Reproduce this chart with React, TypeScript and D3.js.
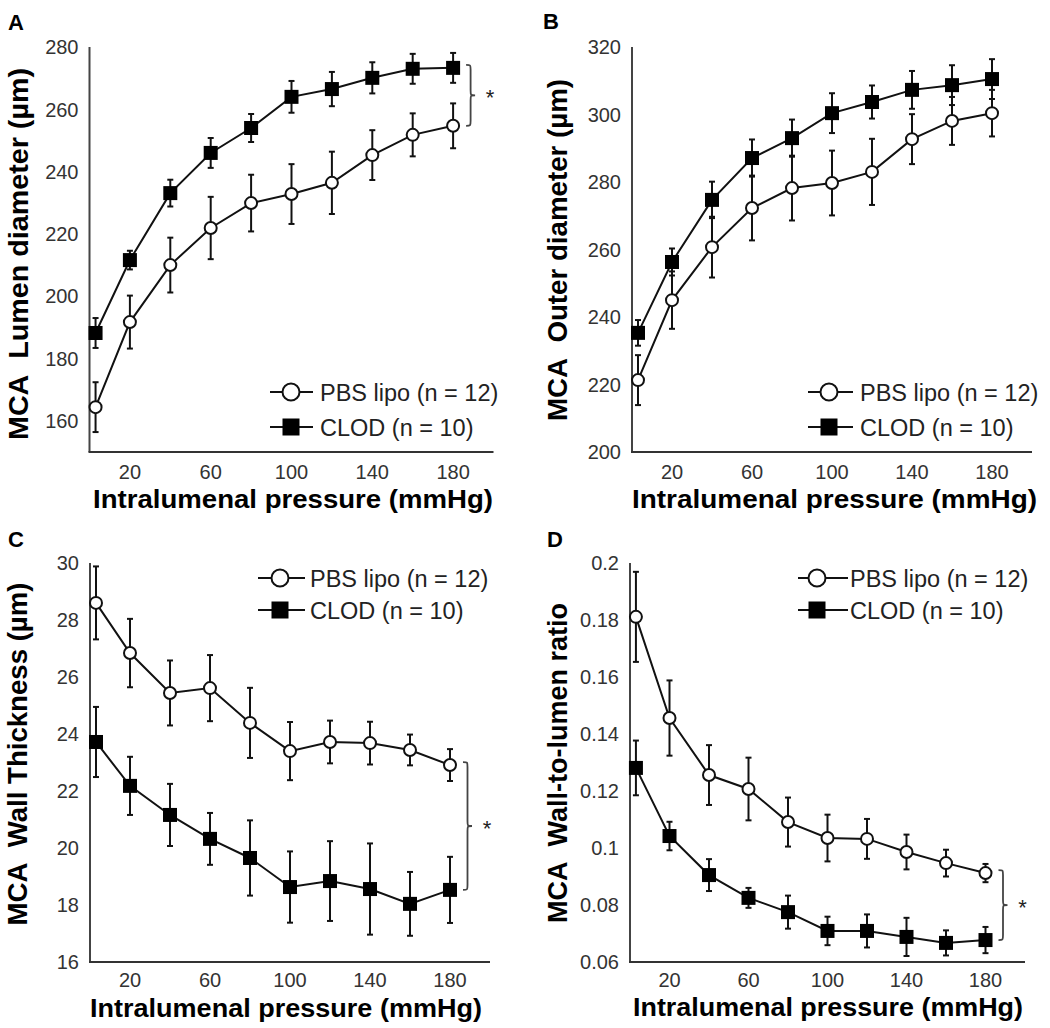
import React from 'react';
import * as d3 from 'd3';

// ---------- data ----------
const pressure = [3, 20, 40, 60, 80, 100, 120, 140, 160, 180];
const xTicks = [20, 60, 100, 140, 180];
const seriesNames = ['PBS lipo (n = 12)', 'CLOD (n = 10)'];

const lumenPBS = [164.4, 191.7, 210.0, 221.9, 229.9, 232.8, 236.4, 245.3, 251.8, 254.7];
const lumenPBSErr = [8, 8.5, 8.8, 10, 9.1, 9.6, 10, 8, 6.9, 7.2];
const lumenCLOD = [188.2, 211.6, 233.1, 246.0, 254.0, 264.0, 266.5, 270.1, 273.0, 273.3];
const lumenCLODErr = [4.8, 3, 4.3, 4.8, 4.5, 5.1, 5.5, 5.0, 4.8, 4.8];
const lumenTicks = [160, 180, 200, 220, 240, 260, 280];

const outerPBS = [221.3, 245.0, 260.7, 272.3, 278.2, 279.7, 283.0, 292.7, 298.1, 300.4];
const outerPBSErr = [7.4, 8.5, 9, 9.6, 9.6, 9.6, 9.8, 7.4, 7.1, 6.9];
const outerCLOD = [235.3, 256.3, 274.7, 287.1, 293.0, 300.4, 303.7, 307.3, 308.7, 310.5];
const outerCLODErr = [3.8, 4, 5.4, 5.5, 5.5, 5.9, 4.9, 5.6, 5.9, 5.9];
const outerTicks = [200, 220, 240, 260, 280, 300, 320];

const wallPBS = [28.6, 26.84, 25.44, 25.61, 24.39, 23.4, 23.72, 23.68, 23.44, 22.91];
const wallPBSErr = [1.28, 1.2, 1.14, 1.16, 1.23, 1.02, 0.75, 0.75, 0.54, 0.56];
const wallCLOD = [23.72, 22.18, 21.16, 20.32, 19.65, 18.63, 18.84, 18.56, 18.04, 18.53];
const wallCLODErr = [1.23, 1.02, 1.09, 0.91, 1.32, 1.25, 1.4, 1.6, 1.12, 1.16];
const wallTicks = [16, 18, 20, 22, 24, 26, 28, 30];

const ratioPBS = [0.1811, 0.1456, 0.1256, 0.1207, 0.1091, 0.1035, 0.1032, 0.0986, 0.0947, 0.0912];
const ratioPBSErr = [0.0158, 0.0132, 0.0105, 0.011, 0.0086, 0.0082, 0.007, 0.0061, 0.0047, 0.0032];
const ratioCLOD = [0.1281, 0.1042, 0.0905, 0.0825, 0.0775, 0.0709, 0.0709, 0.0688, 0.0667, 0.0677];
const ratioCLODErr = [0.0096, 0.005, 0.0056, 0.0035, 0.0058, 0.005, 0.0058, 0.0067, 0.0044, 0.0046];
const ratioTicks = [0.06, 0.08, 0.1, 0.12, 0.14, 0.16, 0.18, 0.2];

// ---------- layout ----------
const FONT = '"Liberation Sans", Arial, Helvetica, sans-serif';
const NB = '\u00a0';

type Panel = {
  letter: string; lx: number; ly: number;
  x0: number; x1: number; yTop: number; yBot: number; yDom: [number, number];
  ticks: number[]; fmt: (v: number) => string;
  pbs: number[]; pbsErr: number[]; clod: number[]; clodErr: number[];
  ylabel: string; ylX: number; ylY: number; ylLen: number; ylSize: number;
  xtY: number; xlX: number; xlY: number; xlLen: number;
  leg: { l1: number; l2: number; m: number; t: number; r1: number; r2: number };
  brace: boolean;
};

const panels: Panel[] = [
  {
    letter: 'A', lx: 8, ly: 30, x0: 89.5, x1: 493.5, yTop: 47, yBot: 452, yDom: [150, 280],
    ticks: lumenTicks, fmt: (v) => String(v),
    pbs: lumenPBS, pbsErr: lumenPBSErr, clod: lumenCLOD, clodErr: lumenCLODErr,
    ylabel: `MCA${NB}${NB}Lumen diameter (\u00b5m)`, ylX: 28, ylY: 254, ylLen: 372, ylSize: 28,
    xtY: 479, xlX: 293, xlY: 508, xlLen: 400,
    leg: { l1: 270, l2: 313, m: 291, t: 320, r1: 392, r2: 427 }, brace: true,
  },
  {
    letter: 'B', lx: 543, ly: 29, x0: 632, x1: 1032, yTop: 47, yBot: 452, yDom: [200, 320],
    ticks: outerTicks, fmt: (v) => String(v),
    pbs: outerPBS, pbsErr: outerPBSErr, clod: outerCLOD, clodErr: outerCLODErr,
    ylabel: `MCA${NB}${NB}Outer diameter (\u00b5m)`, ylX: 567, ylY: 250, ylLen: 342, ylSize: 27,
    xtY: 479, xlX: 834.5, xlY: 508, xlLen: 405,
    leg: { l1: 808, l2: 853, m: 829, t: 860, r1: 392, r2: 427 }, brace: false,
  },
  {
    letter: 'C', lx: 8, ly: 547, x0: 90, x1: 490, yTop: 563, yBot: 962, yDom: [16, 30],
    ticks: wallTicks, fmt: (v) => String(v),
    pbs: wallPBS, pbsErr: wallPBSErr, clod: wallCLOD, clodErr: wallCLODErr,
    ylabel: `MCA${NB}${NB}Wall Thickness (\u00b5m)`, ylX: 27, ylY: 754, ylLen: 343, ylSize: 27,
    xtY: 987, xlX: 286, xlY: 1017, xlLen: 392,
    leg: { l1: 258, l2: 305, m: 280, t: 310, r1: 578, r2: 610 }, brace: true,
  },
  {
    letter: 'D', lx: 547, ly: 547, x0: 630, x1: 1025, yTop: 563, yBot: 962, yDom: [0.06, 0.2],
    ticks: ratioTicks, fmt: (v) => String(+v.toFixed(2)),
    pbs: ratioPBS, pbsErr: ratioPBSErr, clod: ratioCLOD, clodErr: ratioCLODErr,
    ylabel: `MCA${NB}${NB}Wall-to-lumen ratio`, ylX: 567, ylY: 763, ylLen: 320, ylSize: 27,
    xtY: 987, xlX: 828, xlY: 1016, xlLen: 390,
    leg: { l1: 798, l2: 848, m: 817, t: 850, r1: 578, r2: 610 }, brace: true,
  },
];

const R = 6; // circle radius
const S = 14; // square size
const CAP = 3;

function bracePath(x: number, y1: number, y2: number, w: number) {
  const ym = (y1 + y2) / 2;
  const h = 5;
  const xm = x + w / 2;
  return [
    `M${x},${y1}`,
    `C${xm},${y1} ${xm},${y1} ${xm},${y1 + h}`,
    `L${xm},${ym - h}`,
    `C${xm},${ym} ${xm},${ym} ${x + w},${ym}`,
    `C${xm},${ym} ${xm},${ym} ${xm},${ym + h}`,
    `L${xm},${y2 - h}`,
    `C${xm},${y2} ${xm},${y2} ${x},${y2}`,
  ].join(' ');
}

function PanelView({ p }: { p: Panel }) {
  const x = d3.scaleLinear().domain([0, 200]).range([p.x0, p.x1]);
  const y = d3.scaleLinear().domain(p.yDom).range([p.yBot, p.yTop]);
  const line = d3.line<number>().x((_, i) => x(pressure[i])).y((v) => y(v));

  const errBars = (vals: number[], errs: number[], key: string) =>
    vals.map((v, i) => {
      const cx = x(pressure[i]);
      const yt = y(v + errs[i]);
      const yb = y(v - errs[i]);
      return (
        <g key={key + i} stroke="#111" strokeWidth={2}>
          <line x1={cx} x2={cx} y1={yt} y2={yb} />
          <line x1={cx - CAP} x2={cx + CAP} y1={yt} y2={yt} />
          <line x1={cx - CAP} x2={cx + CAP} y1={yb} y2={yb} />
        </g>
      );
    });

  const lastX = x(pressure[pressure.length - 1]);
  const yP = y(p.pbs[p.pbs.length - 1]);
  const yC = y(p.clod[p.clod.length - 1]);
  const bTop = Math.min(yP, yC) - 3;
  const bBot = Math.max(yP, yC);
  const bx = lastX + 13;

  return (
    <g fontFamily={FONT}>
      <text x={p.lx} y={p.ly} fontSize={22} fontWeight="bold" fill="#000">{p.letter}</text>
      {/* axes */}
      <line x1={p.x0} x2={p.x0} y1={p.yTop} y2={p.yBot} stroke="#444" strokeWidth={2} />
      <line x1={p.x0 - 1} x2={p.x1} y1={p.yBot} y2={p.yBot} stroke="#333" strokeWidth={2.2} />
      {p.ticks.map((t) => (
        <text key={'y' + t} x={p.x0 - 11} y={y(t)} dy="0.36em" textAnchor="end" fontSize={20} fill="#333">
          {p.fmt(t)}
        </text>
      ))}
      {xTicks.map((t) => (
        <text key={'x' + t} x={x(t)} y={p.xtY} textAnchor="middle" fontSize={20} fill="#333">
          {t}
        </text>
      ))}
      {/* axis titles */}
      <text
        transform={`translate(${p.ylX},${p.ylY}) rotate(-90)`}
        textAnchor="middle" fontSize={p.ylSize} fontWeight="bold" fill="#000"
        textLength={p.ylLen} lengthAdjust="spacingAndGlyphs"
      >
        {p.ylabel}
      </text>
      <text
        x={p.xlX} y={p.xlY} textAnchor="middle" fontSize={26} fontWeight="bold" fill="#000"
        textLength={p.xlLen} lengthAdjust="spacingAndGlyphs"
      >
        Intralumenal pressure (mmHg)
      </text>
      {/* series */}
      {errBars(p.pbs, p.pbsErr, 'pe')}
      {errBars(p.clod, p.clodErr, 'ce')}
      <path d={line(p.pbs) || ''} fill="none" stroke="#111" strokeWidth={2} />
      <path d={line(p.clod) || ''} fill="none" stroke="#111" strokeWidth={2} />
      {p.clod.map((v, i) => (
        <rect key={'cs' + i} x={x(pressure[i]) - S / 2} y={y(v) - S / 2} width={S} height={S} fill="#000" />
      ))}
      {p.pbs.map((v, i) => (
        <circle key={'pc' + i} cx={x(pressure[i])} cy={y(v)} r={R} fill="#fff" stroke="#111" strokeWidth={2} />
      ))}
      {/* brace */}
      {p.brace && (
        <g>
          <path d={bracePath(bx, bTop, bBot, 9)} fill="none" stroke="#444" strokeWidth={1.8} />
          <text x={bx + 24} y={(bTop + bBot) / 2 + 10} textAnchor="middle" fontSize={22} fill="#222">*</text>
        </g>
      )}
      {/* legend */}
      <g>
        <line x1={p.leg.l1} x2={p.leg.l2} y1={p.leg.r1} y2={p.leg.r1} stroke="#111" strokeWidth={2} />
        <circle cx={p.leg.m} cy={p.leg.r1} r={8.5} fill="#fff" stroke="#111" strokeWidth={2} />
        <text x={p.leg.t} y={p.leg.r1 + 8.5} fontSize={23.5} fill="#222">{seriesNames[0]}</text>
        <line x1={p.leg.l1} x2={p.leg.l2} y1={p.leg.r2} y2={p.leg.r2} stroke="#111" strokeWidth={2} />
        <rect x={p.leg.m - 8.5} y={p.leg.r2 - 8.5} width={17} height={17} fill="#000" />
        <text x={p.leg.t} y={p.leg.r2 + 8.5} fontSize={23.5} fill="#222">{seriesNames[1]}</text>
      </g>
    </g>
  );
}

export default function App() {
  return (
    <svg
      width={1050}
      height={1028}
      viewBox="0 0 1050 1028"
      style={{ position: 'absolute', left: 0, top: 0, background: '#fff' }}
    >
      <rect width={1050} height={1028} fill="#fff" />
      {panels.map((p) => (
        <PanelView key={p.letter} p={p} />
      ))}
    </svg>
  );
}
